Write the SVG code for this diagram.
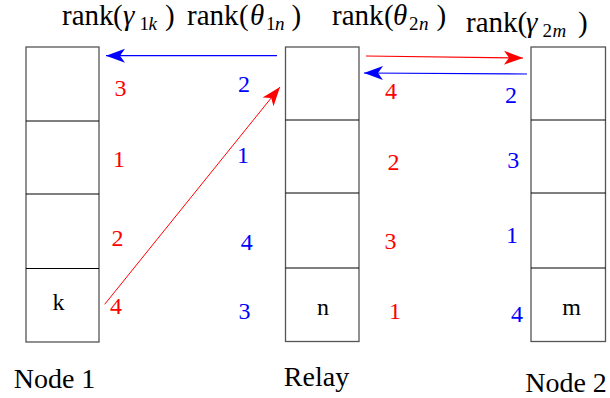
<svg xmlns="http://www.w3.org/2000/svg" width="610" height="398" viewBox="0 0 610 398">
<style>
.f{font-family:"Liberation Serif","Times New Roman",Times,"Nimbus Roman","Nimbus Roman No9 L",FreeSerif,Tinos,"Noto Serif","DejaVu Serif",Georgia,serif}
.t{font-size:29px}
.s{font-size:19px}
.i{font-style:italic}
.num{font-size:24px;text-anchor:middle}
.r{fill:#ff0000}
.b{fill:#0000ff}
.lbl{font-size:28px;text-anchor:middle;fill:#000}
.box{fill:#fff;stroke:#555;stroke-width:1.3}
.div{stroke:#000;stroke-width:1}
.in{font-size:24px;text-anchor:middle;fill:#000}
</style>
<defs>
<marker id="hb" viewBox="-20 -8 21 16" refX="0" refY="0" markerWidth="21" markerHeight="16" markerUnits="userSpaceOnUse" orient="auto"><path d="M0,0 L-19,-7 L-14,0 L-19,7 Z" fill="#0000ff"/></marker>
<marker id="hr" viewBox="-20 -8 21 16" refX="0" refY="0" markerWidth="21" markerHeight="16" markerUnits="userSpaceOnUse" orient="auto"><path d="M0,0 L-19,-7 L-14,0 L-19,7 Z" fill="#ff0000"/></marker>
</defs>
<g class="f">
<g id="titles" fill="#000">
<text class="t f" y="25"><tspan x="62">rank</tspan><tspan x="113">(</tspan><tspan x="123" class="i">γ</tspan><tspan x="139.5" dy="5" class="s">1</tspan><tspan x="148.5" class="s i">k</tspan><tspan x="165" dy="-5">)</tspan></text>
<text class="t f" y="25"><tspan x="187">rank</tspan><tspan x="239">(</tspan><tspan x="250" class="i">θ</tspan><tspan x="266" dy="5" class="s">1</tspan><tspan x="275" class="s i">n</tspan><tspan x="291.5" dy="-5">)</tspan></text>
<text class="t f" y="25"><tspan x="332">rank</tspan><tspan x="384">(</tspan><tspan x="393" class="i">θ</tspan><tspan x="409" dy="5" class="s">2</tspan><tspan x="419" class="s i">n</tspan><tspan x="436.5" dy="-5">)</tspan></text>
<text class="t f" y="32"><tspan x="466">rank</tspan><tspan x="517.5">(</tspan><tspan x="526" class="i">γ</tspan><tspan x="542.5" dy="5" class="s">2</tspan><tspan x="552.5" class="s i">m</tspan><tspan x="578" dy="-5">)</tspan></text>
</g>
<g id="node1">
<rect class="box" x="26" y="47" width="73" height="295"/>
<line class="div" x1="26" y1="121" x2="99" y2="121"/>
<line class="div" x1="26" y1="194" x2="99" y2="194"/>
<line class="div" x1="26" y1="268.5" x2="99" y2="268.5"/>
<text class="in f" x="58.6" y="310">k</text>
<text class="lbl f" x="54.5" y="388">Node 1</text>
</g>
<g id="relay">
<rect class="box" x="285.5" y="47" width="73.5" height="294.5"/>
<line class="div" x1="285.5" y1="120" x2="359" y2="120"/>
<line class="div" x1="285.5" y1="193" x2="359" y2="193"/>
<line class="div" x1="285.5" y1="268" x2="359" y2="268"/>
<text class="in f" x="323" y="315">n</text>
<text class="lbl f" x="316.5" y="386">Relay</text>
</g>
<g id="node2">
<rect class="box" x="531" y="47" width="74.5" height="294.5"/>
<line class="div" x1="531" y1="120" x2="605.5" y2="120"/>
<line class="div" x1="531" y1="193" x2="605.5" y2="193"/>
<line class="div" x1="531" y1="268" x2="605.5" y2="268"/>
<text class="in f" x="571.5" y="315">m</text>
<text class="lbl f" x="566" y="392">Node 2</text>
</g>
<g id="connectors" fill="none">
<line x1="277" y1="55.7" x2="106" y2="55.7" stroke="#0000ff" stroke-width="1.2" marker-end="url(#hb)"/>
<line x1="366" y1="56" x2="523" y2="58" stroke="#ff0000" stroke-width="1.2" marker-end="url(#hr)"/>
<line x1="527" y1="74" x2="364" y2="73" stroke="#0000ff" stroke-width="1.2" marker-end="url(#hb)"/>
<line x1="104.7" y1="304.3" x2="280" y2="87" stroke="#ff0000" stroke-width="1" marker-end="url(#hr)"/>
</g>
<g id="ranks">
<text class="num r f" x="120.5" y="96">3</text>
<text class="num r f" x="119" y="166.7">1</text>
<text class="num r f" x="117.5" y="246">2</text>
<text class="num r f" x="116" y="314">4</text>
<text class="num b f" x="244" y="91.7">2</text>
<text class="num b f" x="243" y="163.3">1</text>
<text class="num b f" x="246.7" y="250">4</text>
<text class="num b f" x="244.5" y="319">3</text>
<text class="num r f" x="391" y="99">4</text>
<text class="num r f" x="393.5" y="170">2</text>
<text class="num r f" x="390.5" y="249.3">3</text>
<text class="num r f" x="395" y="319">1</text>
<text class="num b f" x="511" y="103">2</text>
<text class="num b f" x="513.3" y="168.3">3</text>
<text class="num b f" x="512" y="243.3">1</text>
<text class="num b f" x="517" y="321.7">4</text>
</g>
</g>
</svg>
